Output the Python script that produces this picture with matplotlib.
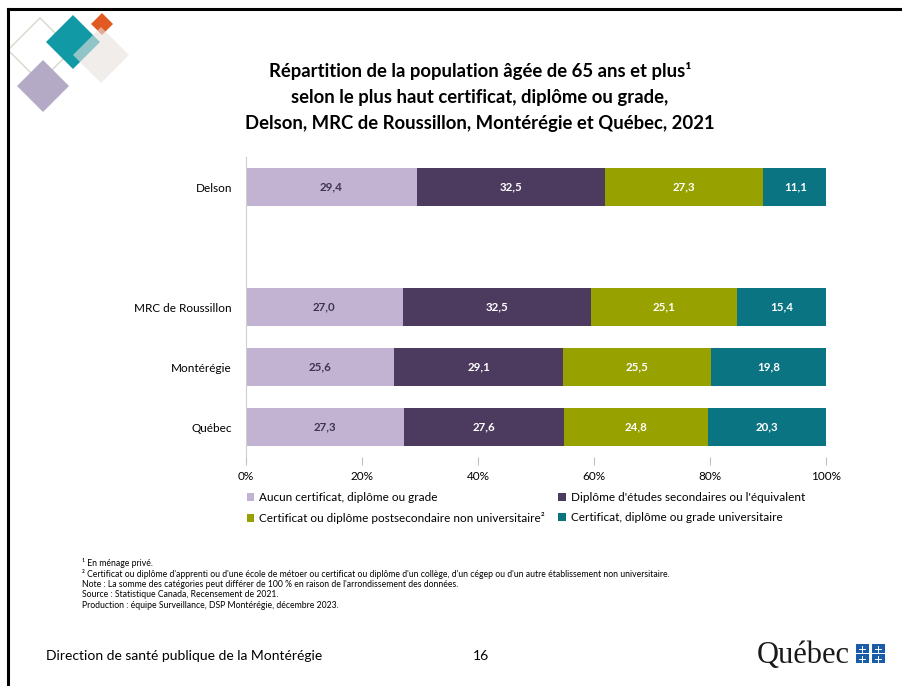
import matplotlib.pyplot as plt
import numpy as np
from matplotlib.patches import Polygon, Rectangle
from matplotlib.lines import Line2D

plt.rcParams['font.family'] = ['Lato', 'DejaVu Sans']

# ---------------- data ----------------
territoires = ["Delson", "MRC de Roussillon", "Montérégie", "Québec"]
series = [
    "Aucun certificat, diplôme ou grade",
    "Diplôme d'études secondaires ou l'équivalent",
    "Certificat ou diplôme postsecondaire non universitaire²",
    "Certificat, diplôme ou grade universitaire",
]
aucun = [29.4, 27.0, 25.6, 27.3]
secondaire = [32.5, 32.5, 29.1, 27.6]
postsec = [27.3, 25.1, 25.5, 24.8]
universitaire = [11.1, 15.4, 19.8, 20.3]

colors = ['#c1b3d1', '#4c3b5f', '#97a100', '#0b7482']
label_colors = ['#3f3450', 'white', 'white', 'white']

W, H = 902, 686
fig = plt.figure(figsize=(W / 100, H / 100), dpi=100)


def px(x, y):
    """pixel (top-left origin) -> figure fraction"""
    return x / W, 1 - y / H


# slide border
fig.add_artist(Line2D([8 / W, 8 / W], [0, 1 - 9 / H], color='black', lw=2.2, transform=fig.transFigure))
fig.add_artist(Line2D([8 / W, 1], [1 - 9 / H, 1 - 9 / H], color='black', lw=2.2, transform=fig.transFigure))


# decorative diamonds
def diamond(cx, cy, r, **kw):
    pts = [px(cx, cy - r), px(cx + r, cy), px(cx, cy + r), px(cx - r, cy)]
    fig.add_artist(Polygon(pts, closed=True, transform=fig.transFigure, **kw))


diamond(40, 50, 32, facecolor='none', edgecolor='#d3d8c8', lw=1.0)
diamond(43, 86, 26, facecolor='#b5aac6', edgecolor='none')
diamond(73, 42, 27, facecolor='#1299a6', edgecolor='none')
diamond(102, 24, 11, facecolor='#e15a22', edgecolor='none')
diamond(101, 55, 28, facecolor='#e6e2de', edgecolor='none', alpha=0.6)

# ---------------- chart ----------------
ax = fig.add_axes([246 / W, 1 - 457 / H, 580 / W, 300 / H])
ypos = np.array([0, 2, 3, 4])  # empty slot between Delson and the rest

data = np.array([aucun, secondaire, postsec, universitaire])
left = np.zeros(len(territoires))
bars = []
for i, vals in enumerate(data):
    b = ax.barh(ypos, vals, left=left, height=0.63, color=colors[i], label=series[i])
    bars.append(b)
    for y, l, v in zip(ypos, left, vals):
        ax.text(l + v / 2, y, f"{v:.1f}".replace('.', ','), ha='center', va='center',
                fontsize=8.3, fontweight='bold', color=label_colors[i])
    left += vals

ax.set_xlim(0, 100)
ax.set_ylim(4.5, -0.5)
ax.set_yticks(ypos)
ax.set_yticklabels(territoires, fontsize=8.5)
ax.tick_params(axis='y', length=0, pad=10)
ax.set_xticks(np.arange(0, 101, 20))
ax.set_xticklabels([f"{t}%" for t in range(0, 101, 20)], fontsize=8.5)
ax.tick_params(axis='x', length=6, color='#bfbfbf', pad=4)
for s in ['top', 'right', 'bottom']:
    ax.spines[s].set_visible(False)
ax.spines['left'].set_color('#d0d0d0')

handles = [bars[0], bars[2], bars[1], bars[3]]
labels = [series[0], series[2], series[1], series[3]]
fig.legend(handles, labels, ncol=2, loc='upper left', bbox_to_anchor=(242 / W, 1 - 487 / H),
           frameon=False, fontsize=8.5, handlelength=0.65, handleheight=0.65, handletextpad=0.4,
           columnspacing=1.15, labelspacing=0.82, borderaxespad=0)

# ---------------- texts ----------------
fig.text(*px(480, 97), "Répartition de la population âgée de 65 ans et plus¹\n"
         "selon le plus haut certificat, diplôme ou grade,\n"
         "Delson, MRC de Roussillon, Montérégie et Québec, 2021",
         ha='center', va='center', fontsize=13.3, fontweight='bold', linespacing=1.62)

notes = [
    "¹ En ménage privé.",
    "² Certificat ou diplôme d'apprenti ou d'une école de métoer ou certificat ou diplôme d'un collège, "
    "d'un cégep ou d'un autre établissement non universitaire.",
    "Note : La somme des catégories peut différer de 100 % en raison de l'arrondissement des données.",
    "Source : Statistique Canada, Recensement de 2021.",
    "Production : équipe Surveillance, DSP Montérégie, décembre 2023.",
]
for k, line in enumerate(notes):
    fig.text(*px(82, 563 + k * 10.6), line, ha='left', va='center', fontsize=6.2)

fig.text(*px(46, 656), "Direction de santé publique de la Montérégie", ha='left', va='center', fontsize=10)
fig.text(*px(481, 656), "16", ha='center', va='center', fontsize=10)

# Québec logo
fig.text(*px(803, 656), "Québec", ha='center', va='center', fontsize=22,
         family=['Liberation Serif', 'DejaVu Serif'], color='#1a1a1a')
for cx in (862, 878):
    for cy in (648.5, 658.5):
        fig.add_artist(Rectangle(px(cx - 6.5, cy + 4.2), 13 / W, 8.4 / H, transform=fig.transFigure,
                                 facecolor='#1b5ca8', edgecolor='none'))
        fig.add_artist(Line2D([(cx - 3) / W, (cx + 3) / W], [1 - cy / H] * 2, color='white', lw=0.7,
                              transform=fig.transFigure))
        fig.add_artist(Line2D([cx / W] * 2, [1 - (cy - 3) / H, 1 - (cy + 3) / H], color='white', lw=0.7,
                              transform=fig.transFigure))

fig.savefig("out.png", dpi=100)
